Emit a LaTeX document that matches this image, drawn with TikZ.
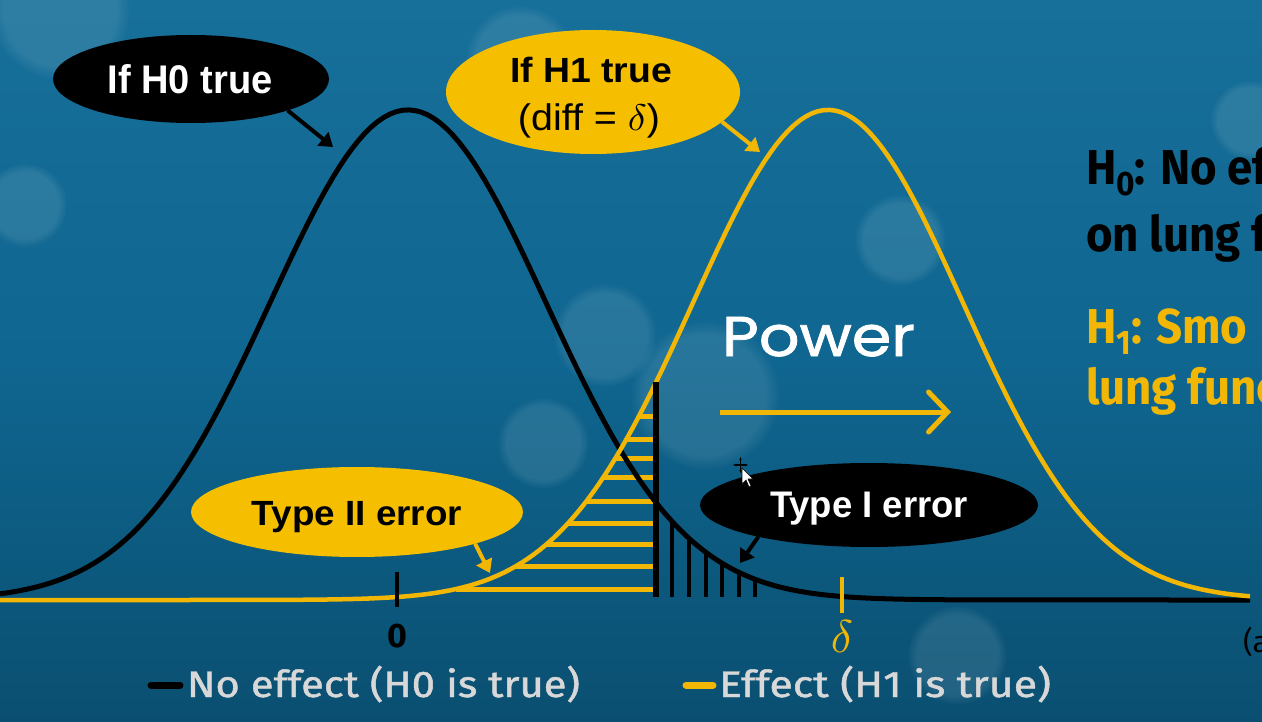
\documentclass[tikz,border=0pt]{standalone}
\usepackage{fontspec}
\usepackage{graphicx}
\usetikzlibrary{arrows.meta,shapes.geometric,fadings}
\newfontfamily\arialf{Liberation Sans}
\newfontfamily\firaf{Fira Sans}
\newfontfamily\firab{Fira Sans}[FakeBold=1.2]
\newfontfamily\popf{Poppins}[FakeBold=1.4]
\definecolor{bgtop}{HTML}{17709A}
\definecolor{bgmid}{HTML}{0F6690}
\definecolor{bgbot}{HTML}{0A4F71}
\definecolor{gold}{HTML}{F2B705}
\definecolor{goldfill}{HTML}{F5BF00}
\definecolor{legtext}{HTML}{D8D8D8}
\newcommand{\fsz}[1]{\fontsize{#1}{#1}\selectfont}
\newcommand{\hfit}[2]{\resizebox{#1}{\height}{#2}}
\newcommand{\bigdelta}[1]{{\normalsize\scalebox{#1}{$\delta$}}}
\newcommand{\hyp}[1]{\scalebox{0.93}[1]{#1}}
\begin{document}
\begin{tikzpicture}[x=1pt,y=-1pt,
  bubble/.style={ellipse, inner sep=0pt, outer sep=0pt},
  blackbub/.style={bubble, fill=black},
  goldbub/.style={bubble, fill=goldfill},
  txt/.style={inner sep=0pt, outer sep=0pt},
  hyptxt/.style={txt, anchor=base west, font=\firaf\bfseries\fsz{49}},
  callarrow/.style={line width=4pt, -{Triangle[length=13pt,width=17pt]}},
  curve/.style={line width=5pt, line join=round},
  bokeh/.style={fill=white, opacity=0.10, path fading=circle with fuzzy edge 20 percent}]

\useasboundingbox (0,0) rectangle (1262,722);
\clip (0,0) rectangle (1262,722);
% background
\shade[top color=bgtop, bottom color=bgbot, middle color=bgmid] (0,0) rectangle (1262,722);
\fill[bokeh] (60,10) circle (70);
\fill[bokeh] (25,205) circle (42);
\fill[bokeh] (520,60) circle (55);
\fill[bokeh] (605,335) circle (52);
\fill[bokeh] (543,443) circle (46);
\fill[bokeh] (900,240) circle (46);
\fill[bokeh] (705,395) circle (75);
\fill[bokeh] (957,655) circle (50);
\fill[bokeh] (1250,120) circle (40);

% hatched areas
\foreach \yy in {416,439,458,477,501,523,544,566,589}
  \draw[gold, line width=5pt] ({828-135*sqrt(2*ln(490/(600-\yy)))},\yy) -- (653,\yy);
\foreach \xx in {672,689,706,722,739,755}
  \draw[black, line width=4.5pt] (\xx,597) -- (\xx,{600-490*exp(-0.5*((\xx-408)/138)^2)});

% curves
\draw[curve, black] plot[domain=0:1000, samples=160] (\x,{600-490*exp(-0.5*((\x-408)/138)^2)}) -- (1250,600);
\draw[curve, gold, line width=4.5pt] (0,600) -- (190,600) -- plot[domain=190:1250, samples=180] (\x,{600-490*exp(-0.5*((\x-828)/135)^2)});

% critical line
\draw[black, line width=5.5pt] (656,382) -- (656,597);

% ticks and axis labels
\draw[black, line width=3.5pt] (397,572) -- (397,607);
\draw[gold, line width=3.5pt] (842,577) -- (842,613);
\node[txt, anchor=base, font=\firaf\bfseries\fsz{34}] (zero) at (397,647) {0};
\node[txt, anchor=base, text=gold] (delta) at (842,652) {\bigdelta{4.6}};
\node[txt, anchor=base west, font=\firaf\fsz{30}] (acut) at (1243,652) {(a};

% bubbles
\node[blackbub, minimum width=276pt, minimum height=88pt] (h0b) at (191,79) {};
\node[txt, anchor=base, text=white, font=\arialf\bfseries\fsz{40}] (h0t) at (190,94) {\hfit{165pt}{If H0 true}};
\node[goldbub, minimum width=294pt, minimum height=124pt] (h1b) at (593,92) {};
\node[txt, anchor=base, font=\arialf\bfseries\fsz{35}] (h1t) at (591,83) {\hfit{162pt}{If H1 true}};
\node[txt, anchor=base, font=\arialf\fsz{37}] (h1d) at (589,131) {\hfit{142pt}{(diff = \bigdelta{3.7})}};
\node[goldbub, minimum width=332pt, minimum height=90pt] (t2b) at (357,512) {};
\node[txt, anchor=base, font=\arialf\bfseries\fsz{35}] (t2t) at (357,525) {\hfit{210pt}{Type II error}};
\node[blackbub, minimum width=338pt, minimum height=84pt] (t1b) at (869,505) {};
\node[txt, anchor=base, text=white, font=\arialf\bfseries\fsz{37}] (t1t) at (869,517) {\hfit{198pt}{Type I error}};

% callout arrows
\coordinate (h0c) at (333,147);
\coordinate (h1c) at (760,152);
\coordinate (t2c) at (490,573);
\coordinate (t1c) at (740,563);
\draw[callarrow, black] (h0b.342) -- (h0c);
\draw[callarrow, gold] (h1b.347) -- (h1c);
\draw[callarrow, gold] (t2b.345) -- (t2c);
\draw[callarrow, black] (t1b.196) -- (t1c);

% power
\node[txt, anchor=base west, text=white, font=\popf\fsz{56}] (pow) at (722,356) {\hfit{193pt}{Power}};
\coordinate (pa) at (720,412);
\coordinate (pb) at (951,412);
\draw[gold, line width=5pt, -{Straight Barb[length=19pt,width=40pt,line cap=round]}] (pa) -- (pb);

% right hypotheses text
\node[hyptxt] (h0l1) at (1086,185) {\hyp{H\raisebox{-11pt}{\fsz{34}0}: No ef}};
\node[hyptxt] (h0l2) at (1086,252) {\hyp{on lung f}};
\node[hyptxt, text=gold] (h1l1) at (1086,343) {\hyp{H\raisebox{-11pt}{\fsz{34}1}: Smo}};
\node[hyptxt, text=gold] (h1l2) at (1086,404) {\hyp{lung func}};

% legend
\coordinate (l0a) at (151,685);
\coordinate (l0b) at (180,685);
\coordinate (l1a) at (686,685);
\coordinate (l1b) at (713,685);
\draw[black, line width=7pt, line cap=round] (l0a) -- (l0b);
\draw[gold, line width=7pt, line cap=round] (l1a) -- (l1b);
\node[txt, anchor=base west, text=legtext, font=\firab\fsz{37}] (leg0) at (187,697) {\hfit{393pt}{No effect (H0 is true)}};
\node[txt, anchor=base west, text=legtext, font=\firab\fsz{37}] (leg1) at (719,697) {\hfit{332pt}{Effect (H1 is true)}};

% mouse cursor
\draw[black, line width=1.3pt, {Stealth[length=3pt]}-{Stealth[length=3pt]}] (733,465) -- (748,465);
\draw[black, line width=1.3pt, {Stealth[length=3pt]}-{Stealth[length=3pt]}] (740.5,457) -- (740.5,473);
\fill[white, draw=black, line width=0.6pt] (742,468) -- (742,484) -- (746,480) -- (749,487) -- (751,486) -- (748,479) -- (753,479) -- cycle;
\end{tikzpicture}
\end{document}
